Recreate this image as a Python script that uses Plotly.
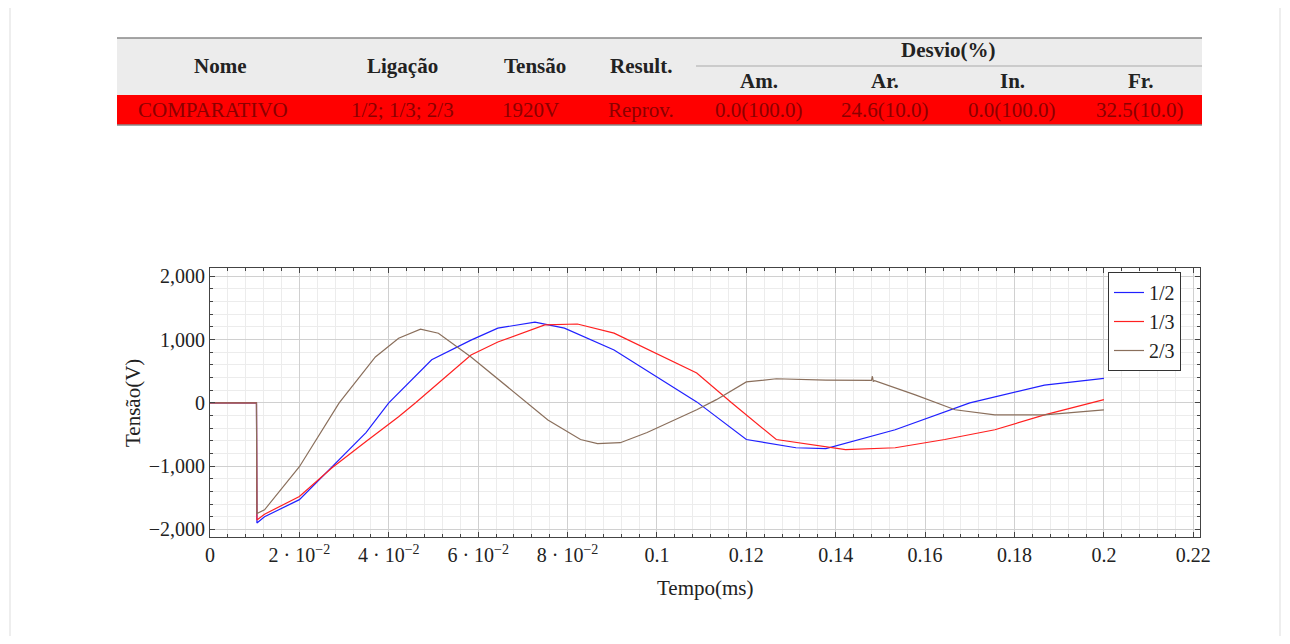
import plotly.graph_objects as go

W, H = 1274, 628

# --- data ---
t_12 = [0, 0.0104, 0.0105, 0.0122, 0.02, 0.0273, 0.0349, 0.04, 0.0496, 0.0584, 0.0644, 0.0727, 0.0793, 0.0904,
        0.1089, 0.12, 0.1311, 0.1378, 0.1533, 0.17, 0.1867, 0.2]
v_12 = [0, 0, -1900, -1800, -1530, -1010, -470, 0, 680, 990, 1180, 1275, 1180, 835,
        15, -580, -710, -725, -425, 0, 280, 385]
t_13 = [0, 0.0104, 0.0105, 0.0122, 0.02, 0.0273, 0.0349, 0.0422, 0.046, 0.0584, 0.0644, 0.0749, 0.0822, 0.0904,
        0.1089, 0.1167, 0.1267, 0.1422, 0.1533, 0.1644, 0.1756, 0.1867, 0.2]
v_13 = [0, 0, -1850, -1760, -1480, -1025, -610, -220, 0, 755, 960, 1230, 1245, 1100,
        470, 0, -580, -740, -710, -580, -425, -190, 50]
t_23 = [0, 0.0104, 0.0105, 0.0122, 0.02, 0.0289, 0.037, 0.0422, 0.0471, 0.0511, 0.0584, 0.0682, 0.0756, 0.0829,
        0.0867, 0.0918, 0.0978, 0.1089, 0.1133, 0.12, 0.1267, 0.1378, 0.148, 0.1482, 0.1484, 0.1487, 0.1578,
        0.1667, 0.1756, 0.1867, 0.2]
v_23 = [0, 0, -1750, -1690, -1010, 0, 725, 1020, 1165, 1100, 725, 160, -270, -580,
        -645, -630, -470, -110, 50, 330, 380, 360, 355, 420, 340, 350, 125,
        -110, -190, -190, -110]

series = [("1/2", t_12, v_12, "#2020ff"), ("1/3", t_13, v_13, "#ff2020"),
          ("2/3", t_23, v_23, "#8a6f5c")]

x_tickvals = [0, 0.02, 0.04, 0.06, 0.08, 0.1, 0.12, 0.14, 0.16, 0.18, 0.2, 0.22]
x_ticktext = ["0", "2 · 10<sup>−2</sup>", "4 · 10<sup>−2</sup>", "6 · 10<sup>−2</sup>",
              "8 · 10<sup>−2</sup>", "0.1", "0.12", "0.14", "0.16", "0.18", "0.2", "0.22"]
y_tickvals = [-2000, -1000, 0, 1000, 2000]
y_ticktext = ["−2,000", "−1,000", "0", "1,000", "2,000"]

header = ["Nome", "Ligação", "Tensão", "Result."]
header_x = [220, 402, 535, 641]
sub_header = ["Am.", "Ar.", "In.", "Fr."]
row = ["COMPARATIVO", "1/2; 1/3; 2/3", "1920V", "Reprov.", "0.0(100.0)", "24.6(10.0)", "0.0(100.0)", "32.5(10.0)"]
row_x = [213, 402, 530, 641, 759, 885, 1012, 1140]

FONT = "Liberation Serif"

fig = go.Figure()
for name, t, v, c in series:
    fig.add_trace(go.Scatter(x=t, y=v, name=name, mode="lines", line=dict(color=c, width=1.2)))

# page pixel -> paper coords (page has an 8px body margin)
def px(x): return (x - 8) / W
def py(y): return 1 - (y - 8) / H

shapes = [
    dict(type="rect", xref="paper", yref="paper", x0=px(117), x1=px(1202), y0=py(95), y1=py(38),
         fillcolor="#ececec", line_width=0, layer="below"),
    dict(type="rect", xref="paper", yref="paper", x0=px(117), x1=px(1202), y0=py(125), y1=py(95),
         fillcolor="#ff0000", line_width=0, layer="below"),
    dict(type="line", xref="paper", yref="paper", x0=px(117), x1=px(1202), y0=py(38), y1=py(38),
         line=dict(color="#888", width=1.5)),
    dict(type="line", xref="paper", yref="paper", x0=px(696), x1=px(1202), y0=py(66), y1=py(66),
         line=dict(color="#aaa", width=1)),
    dict(type="line", xref="paper", yref="paper", x0=px(117), x1=px(1202), y0=py(125), y1=py(125),
         line=dict(color="#888", width=1.5)),
    dict(type="line", xref="paper", yref="paper", x0=px(10), x1=px(10), y0=0, y1=1,
         line=dict(color="#dddddd", width=1)),
    dict(type="line", xref="paper", yref="paper", x0=px(1280), x1=px(1280), y0=0, y1=1,
         line=dict(color="#dddddd", width=1)),
]

def label(text, x, y, size=21, color="#222", **kw):
    return dict(text=text, x=px(x), y=py(y), xref="paper", yref="paper", showarrow=False,
                xanchor="center", yanchor="middle", font=dict(size=size, family=FONT, color=color), **kw)

ann = [label("<b>%s</b>" % t, x, 66) for t, x in zip(header, header_x)]
ann.append(label("<b>Desvio(%)</b>", 948, 50))
ann += [label("<b>%s</b>" % t, x, 81) for t, x in zip(sub_header, row_x[4:])]
ann += [label(t, x, 110, color="#8b0000") for t, x in zip(row, row_x)]
ann.append(label("Tempo(ms)", 705, 588))
ann.append(label("Tensão(V)", 133, 403, textangle=-90))

axis_common = dict(showline=True, linecolor="#444", linewidth=1, mirror="ticks", ticks="inside",
                   ticklen=5, tickcolor="#444", gridcolor="#d0d0d0", zeroline=False,
                   tickfont=dict(size=20, family=FONT, color="#222"), automargin=False)
fig.update_layout(
    width=W, height=H, autosize=False, margin=dict(l=0, r=0, t=0, b=0),
    paper_bgcolor="white", plot_bgcolor="white",
    xaxis=dict(domain=[px(210), px(1200)], range=[0, 0.2215], tickvals=x_tickvals, ticktext=x_ticktext,
               minor=dict(dtick=0.004, showgrid=True, gridcolor="#ececec", ticks="inside", ticklen=3),
               **axis_common),
    yaxis=dict(domain=[py(537), py(268)], range=[-2120, 2130], tickvals=y_tickvals,
               ticktext=y_ticktext,
               minor=dict(dtick=200, showgrid=True, gridcolor="#ececec", ticks="inside", ticklen=3),
               **axis_common),
    legend=dict(x=px(1181), y=py(272), xanchor="right", yanchor="top", bordercolor="#333",
                borderwidth=1, bgcolor="white", font=dict(size=20, family=FONT, color="#222")),
    shapes=shapes, annotations=ann, showlegend=True,
)
fig.write_html("out.html")
